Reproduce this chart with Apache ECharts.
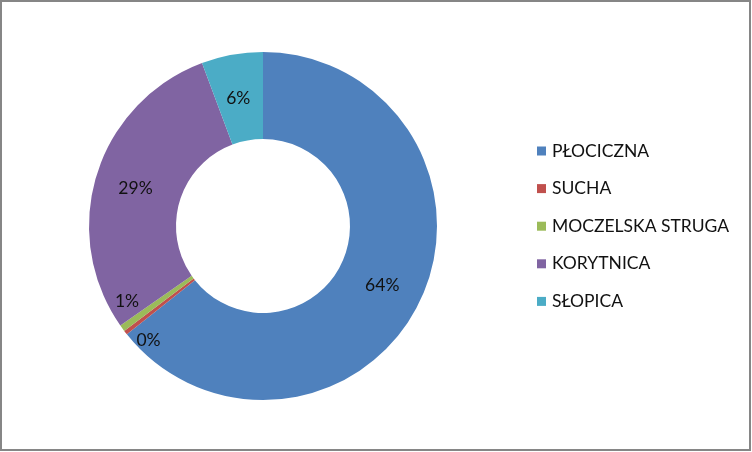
<!DOCTYPE html>
<html><head><meta charset="utf-8">
<script src="https://cdn.jsdelivr.net/npm/echarts@6/dist/echarts.min.js"></script>
<style>html,body{margin:0;padding:0;background:#fff}#c{width:752px;height:452px}</style>
</head><body><div id="c"></div>
<script>
const categories = ['PŁOCICZNA', 'SUCHA', 'MOCZELSKA STRUGA', 'KORYTNICA', 'SŁOPICA'];
const values = [64.3, 0.4, 0.6, 29.0, 5.7];
const colors = ['#4F81BD', '#C0504D', '#9BBB59', '#8064A2', '#4BACC6'];
const labelOffsets = [[-1,1],[-9,33],[-28,-3],[0,2],[-1,4]];

const chart = echarts.init(document.getElementById('c'), null, {renderer:'canvas'});
const font = 'Lato, "Open Sans", sans-serif';
chart.setOption({
  animation: false,
  graphic: [{type:'rect', shape:{x:1,y:1,width:749,height:449}, style:{fill:'none', stroke:'#868686', lineWidth:2}, silent:true}],
  legend: {
    orient: 'vertical', left: 532, top: 137,
    itemWidth: 9, itemHeight: 9, itemGap: 19.6,
    icon: 'rect',
    textStyle: {fontFamily: font, fontSize: 17.5, color: '#111', lineHeight: 18, padding:[0,0,0,1]},
    data: categories
  },
  series: [{
    type: 'pie',
    center: [263, 226],
    radius: [87, 174],
    startAngle: 90,
    clockwise: true,
    avoidLabelOverlap: false,
    label: {position: 'inside', fontFamily: font, fontSize: 17.5, color: '#111', formatter: p => Math.round(p.percent) + '%'},
    labelLine: {show: false},
    emphasis: {disabled: true},
    data: categories.map((n, i) => ({name: n, value: values[i], itemStyle: {color: colors[i]}, label: {offset: labelOffsets[i]}}))
  }]
});
</script></body></html>
